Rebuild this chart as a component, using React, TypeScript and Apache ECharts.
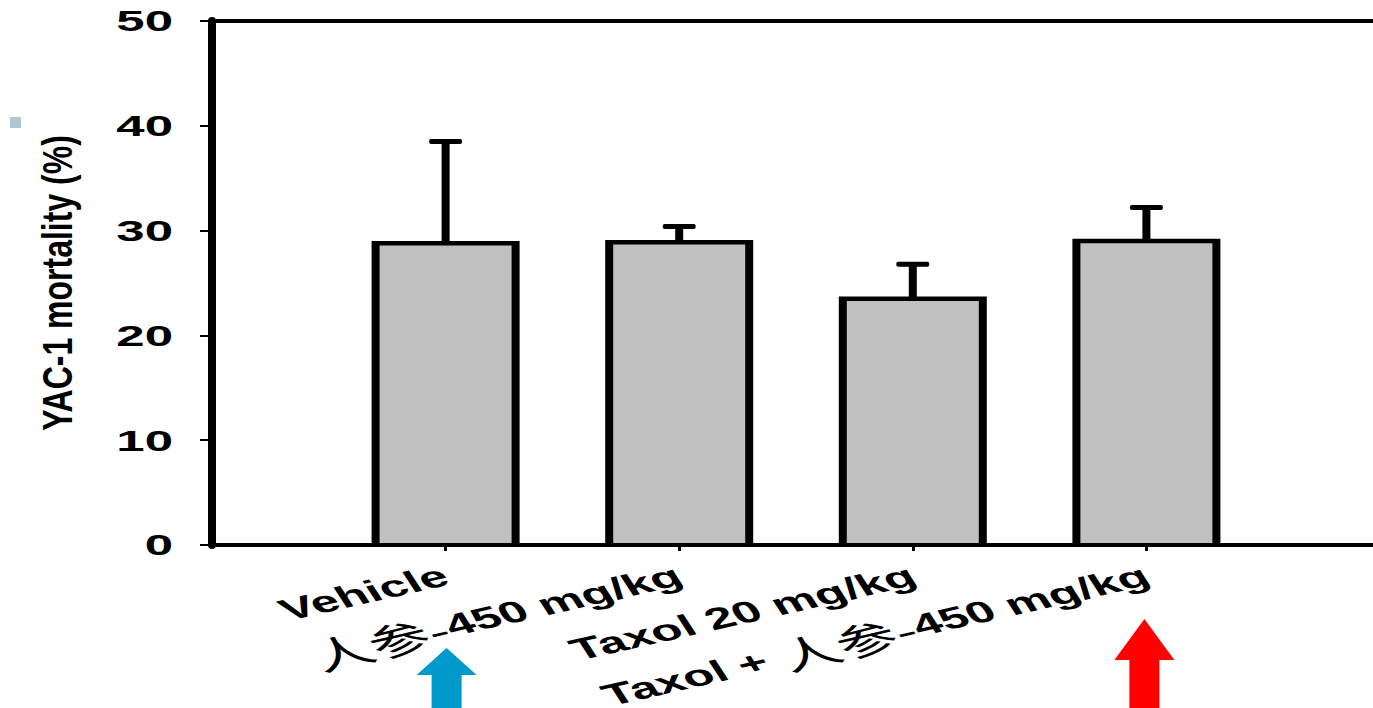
import React, { useEffect, useRef } from "react";
import * as echarts from "echarts";

// ---- data ----
const categories = ["Vehicle", "人参-450 mg/kg", "Taxol 20 mg/kg", "Taxol + 人参-450 mg/kg"];
const positions = [1, 2, 3, 4];
const meanValues = [28.8, 28.9, 23.5, 29.0];
const errorTops = [38.5, 30.4, 26.8, 32.2];
const yTicks = [0, 10, 20, 30, 40, 50];
const yAxisTitle = "YAC-1 mortality (%)";
const blueArrowAt = 1;
const redArrowAt = 4;

const LATIN = "'Liberation Sans', Arial, sans-serif";
const CJK = "'Noto Sans CJK SC', 'Noto Sans CJK TC', sans-serif";

function toRich(label: string): string {
  const parts = label.split(/([\u4e00-\u9fff]+-?)/).filter((s) => s.length > 0);
  return parts
    .map((p) => (/[\u4e00-\u9fff]/.test(p) ? `{c|${p}}` : `{b|${p}}`))
    .join("");
}

export default function App() {
  const ref = useRef<HTMLDivElement>(null);

  useEffect(() => {
    if (!ref.current) return;
    const chart = echarts.init(ref.current, undefined, { renderer: "svg" });

    chart.setOption({
      animation: false,
      backgroundColor: "#ffffff",
      grid: {
        left: 212,
        right: -7,
        top: 21,
        bottom: 163,
        outerBoundsMode: "none",
        containLabel: false,
        show: false,
      },
      xAxis: [
        {
          type: "value",
          min: 0,
          max: 5,
          interval: 1,
          z: 5,
          axisLine: { show: true, onZero: false, lineStyle: { color: "#000", width: 4 } },
          axisTick: {
            show: true,
            length: 6,
            customValues: positions,
            lineStyle: { color: "#000", width: 3 },
          },
          axisLabel: { show: false },
          splitLine: { show: false },
        },
        {
          type: "value",
          position: "top",
          min: 0,
          max: 5,
          z: 5,
          axisLine: { show: true, onZero: false, lineStyle: { color: "#000", width: 4 } },
          axisTick: { show: false },
          axisLabel: { show: false },
          splitLine: { show: false },
        },
      ],
      yAxis: {
        type: "value",
        min: 0,
        max: 50,
        interval: 10,
        z: 6,
        axisLine: { show: true, lineStyle: { color: "#000", width: 8 } },
        axisTick: { show: true, length: 12, lineStyle: { color: "#000", width: 2 } },
        axisLabel: { show: false },
        splitLine: { show: false },
      },
      series: [
        {
          type: "custom",
          name: "error",
          z: 1,
          data: positions.map((p, i) => [p, meanValues[i], errorTops[i]]),
          renderItem: (params: any, api: any) => {
            const x = api.value(0);
            const top = api.coord([x, api.value(1)]);
            const err = api.coord([x, api.value(2)]);
            return {
              type: "group",
              children: [
                {
                  type: "rect",
                  shape: { x: top[0] - 4, y: err[1], width: 8, height: top[1] - err[1] },
                  style: { fill: "#000" },
                },
                {
                  type: "rect",
                  shape: { x: top[0] - 16.5, y: err[1] - 2.5, width: 33, height: 5, r: 2 },
                  style: { fill: "#000" },
                },
              ],
            };
          },
        },
        {
          type: "custom",
          name: "bars",
          z: 2,
          data: positions.map((p, i) => [p, meanValues[i]]),
          renderItem: (params: any, api: any) => {
            const x = api.value(0);
            const top = api.coord([x, api.value(1)]);
            const base = api.coord([x, 0]);
            const half = 74;
            const side = 8;
            const tb = 4.5;
            return {
              type: "group",
              children: [
                {
                  type: "rect",
                  shape: {
                    x: top[0] - half,
                    y: top[1] - tb / 2,
                    width: half * 2,
                    height: base[1] - top[1] + tb / 2,
                  },
                  style: { fill: "#000" },
                },
                {
                  type: "rect",
                  shape: {
                    x: top[0] - half + side,
                    y: top[1] + tb / 2,
                    width: (half - side) * 2,
                    height: base[1] - top[1] - tb / 2,
                  },
                  style: { fill: "#C0C0C0" },
                },
              ],
            };
          },
        },
      ],
    });

    const axisX = chart.convertToPixel({ xAxisIndex: 0 }, 0) as number;
    const axisY = chart.convertToPixel({ yAxisIndex: 0 }, 0) as number;
    const topY = chart.convertToPixel({ yAxisIndex: 0 }, 50) as number;
    const xs = positions.map((p) => chart.convertToPixel({ xAxisIndex: 0 }, p) as number);

    const graphics: any[] = [];

    // y tick labels (stretched horizontally like the reference)
    yTicks.forEach((t) => {
      const y = chart.convertToPixel({ yAxisIndex: 0 }, t) as number;
      graphics.push({
        type: "group",
        x: axisX - 39,
        y,
        scaleX: 1.7,
        children: [
          {
            type: "text",
            style: {
              text: String(t),
              fontFamily: LATIN,
              fontWeight: "bold",
              fontSize: 30,
              fill: "#000",
              align: "right",
              verticalAlign: "middle",
            },
          },
        ],
      });
    });

    // y axis title
    graphics.push({
      type: "group",
      x: 57,
      y: (axisY + topY) / 2,
      scaleX: 1.35,
      children: [
        {
          type: "text",
          rotation: Math.PI / 2,
          style: {
            text: yAxisTitle,
            fontFamily: LATIN,
            fontWeight: "bold",
            fontSize: 32,
            fill: "#000",
            align: "center",
            verticalAlign: "middle",
          },
        },
      ],
    });

    // x category labels (rotated then stretched)
    categories.forEach((c, i) => {
      graphics.push({
        type: "group",
        x: xs[i] - 6,
        y: axisY + 20,
        scaleX: 1.7,
        children: [
          {
            type: "text",
            rotation: (21 * Math.PI) / 180,
            style: {
              text: toRich(c),
              align: "right",
              verticalAlign: "top",
              rich: {
                b: {
                  fontFamily: LATIN,
                  fontWeight: "bold",
                  fontSize: 30,
                  lineHeight: 20,
                  fill: "#000",
                },
                c: {
                  fontFamily: CJK,
                  fontWeight: "normal",
                  fontSize: 36,
                  lineHeight: 20,
                  fill: "#000",
                },
              },
            },
          },
        ],
      });
    });

    // arrows
    const arrow = (cx: number, tipY: number, baseY: number, color: string) => ({
      type: "polygon",
      shape: {
        points: [
          [cx, tipY],
          [cx + 30, baseY],
          [cx + 15, baseY],
          [cx + 15, 720],
          [cx - 15, 720],
          [cx - 15, baseY],
          [cx - 30, baseY],
        ],
      },
      style: { fill: color },
    });
    const bx = chart.convertToPixel({ xAxisIndex: 0 }, blueArrowAt) as number;
    const rx = chart.convertToPixel({ xAxisIndex: 0 }, redArrowAt) as number;
    graphics.push(arrow(bx + 1, axisY + 103, axisY + 130, "#0099CC"));
    graphics.push(arrow(rx - 2, axisY + 74, axisY + 115, "#FF0000"));

    // small marker square
    graphics.push({
      type: "rect",
      shape: { x: 10, y: 117, width: 11, height: 11 },
      style: { fill: "#AFC6D6" },
    });

    chart.setOption({ graphic: graphics });

    return () => chart.dispose();
  }, []);

  return (
    <div
      ref={ref}
      style={{ position: "fixed", left: 0, top: 0, width: 1373, height: 708, background: "#fff" }}
    />
  );
}
